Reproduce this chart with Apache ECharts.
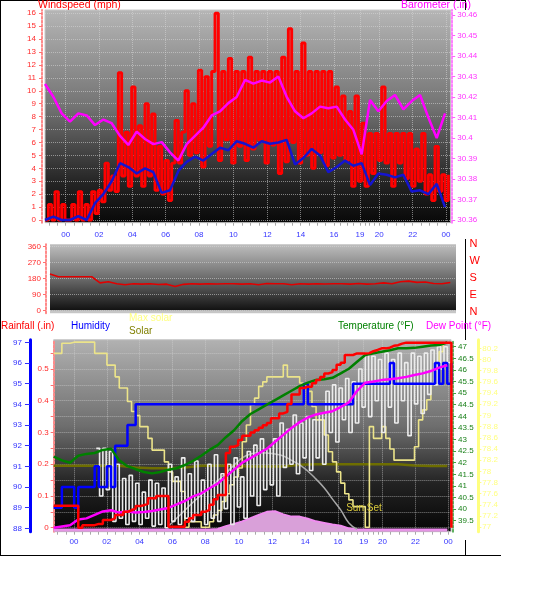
<!DOCTYPE html>
<html><head><meta charset="utf-8">
<script src="https://cdn.jsdelivr.net/npm/echarts@6/dist/echarts.min.js"></script>
<style>html,body{margin:0;padding:0;background:#fff}#c{width:556px;height:612px}</style>
</head><body><div id="c"></div>
<script>
// ---------------- data ----------------
const hourLabels = ['00','02','04','06','08','10','12','14','16','19','20','22','00'];
const hourLabelPos = [1.24,3.24,5.24,7.24,9.24,11.30,13.34,15.34,17.34,18.90,20.05,22.06,24.06];

const windTicks = [0,1,2,3,4,5,6,7,8,9,10,11,12,13,14,15,16];
const baroTicks = [30.36,30.37,30.38,30.39,30.40,30.41,30.42,30.43,30.44,30.45,30.46];
const dirTicks = [0,90,180,270,360];
const dirLetters = ['N','W','S','E','N'];
const rainLabels = [0,0.1,0.2,0.3,0.4,0.5];
const rainTicks = [0,0.05,0.1,0.15,0.2,0.25,0.3,0.35,0.4,0.45,0.5,0.55];
const humTicks = [88,89,90,91,92,93,94,95,96,97];
const tempTicks = [39.5,40,40.5,41,41.5,42,42.5,43,43.5,44,44.5,45,45.5,46,46.5,47];
const maxSolarTicks = [77,77.2,77.4,77.6,77.8,78,78.2,78.4,78.6,78.8,79,79.2,79.4,79.6,79.8,80,80.2];

// wind gust (mph), one value every 0.2 h
const gustStep = 0.2;
const windGust = [0,1.2,0,2.2,0,1.2,0,0,1.2,0,2.2,0,1.2,0,
 2.2,0.5,2.3,
 1.4,4.4,2.3,3.4,2.2,
 11.4,3.4,6.8,2.6,10.3,3.4,
 7.3,2.6,9.0,3.4,8.2,2.3,
 5.7,2.0,4.6,1.5,4.4,
 7.7,4.4,6.8,
 10.0,5.0,9.0,5.2,
 11.6,4.1,11.1,5.7,11.5,
 16.0,
 4.6,11.5,6.2,12.5,4.4,11.5,5.7,11.5,4.6,12.6,
 5.5,11.5,6.2,11.5,4.4,11.5,5.8,11.5,3.6,12.6,4.5,14.8,6.0,
 11.5,4.4,13.7,5.0,11.5,4.0,11.5,5.2,11.5,4.2,11.5,4.8,
 10.3,5.0,9.6,4.6,8.4,
 2.6,9.6,3.0,7.5,2.6,
 6.7,3.6,6.7,4.6,10.3,
 4.4,6.7,2.6,6.7,4.4,6.7,3.2,6.7,2.6,5.5,3.0,6.7,
 2.0,3.5,1.5,5.7,2.2,3.5,1.5,3.5];

// half-hourly series
const halfStep = 0.5;
const windAvg = [0,0.26,0,0,0.3,0,1.3,2.0,3.0,4.4, 4.1,3.6,4.0,3.7,2.1,2.3,3.8,4.5,4.9,4.6,
 5.1,5.6,5.4,6.1,5.9,5.6,6.1,5.9,6.0,6.2, 4.3,4.8,5.5,5.0,3.7,4.1,4.6,4.2,4.4,2.7,
 3.6,3.5,3.3,3.5,2.2,2.3,2.0,2.8,1.0];
const barometer = [30.4263,30.4201,30.412,30.408,30.412,30.411,30.4063,30.409,30.4072,30.401,
 30.3966,30.4031,30.3995,30.397,30.398,30.393,30.389,30.397,30.401,30.405,
 30.411,30.413,30.417,30.420,30.4283,30.4265,30.428,30.427,30.430,30.4201,
 30.413,30.4096,30.412,30.4153,30.4145,30.4153,30.409,30.404,30.392,30.4185,
 30.413,30.418,30.421,30.414,30.418,30.421,30.410,30.400,30.412];
const windDir = [205,190,190,190,190,190,155,162,150,145, 150,148,150,146,148,135,147,150,148,150,
 149,150,150,148,150,145,152,150,150,145, 150,148,150,149,150,150,148,152,148,150,
 155,150,162,165,158,160,152,150,157];

// quarter-hourly series (bottom panel)
const qStep = 0.25;
const rainfall = [0.069,0.069,0.069,0.069,0.069,0.069,0,0.008,0.008,0.008,
 0.012,0.012,0.024,0.024,0.03,0.04,0.04,0.05,0.055,0.061,
 0.068,0.071,0.075,0.093,0.093,0.1,0.1,0.1,0.003,0.003,
 0.003,0.003,0.019,0.03,0.04,0.04,0.05,0.056,0.072,0.09,
 0.103,0.103,0.235,0.255,0.26,0.276,0.29,0.29,0.3,0.307,
 0.315,0.323,0.33,0.345,0.345,0.36,0.365,0.39,0.42,0.42,
 0.44,0.444,0.444,0.455,0.465,0.475,0.486,0.49,0.497,0.513,
 0.52,0.544,0.544,0.549,0.549,0.549,0.55,0.556,0.56,0.565,
 0.565,0.567,0.573,0.575,0.58,0.583,0.583,0.583,0.583,0.583,
 0.583,0.583,0.583,0.583,0.583,0.583,0.583,0];
const humidity = [89,89,90,90,90,89,90,90,90,90,
 91,90,90,91,90,92,92,92,93,93,
 94,94,94,94,94,94,94,94,94,94,
 94,94,94,94,94,94,94,94,94,94,
 94,94,94,94,94,94,94,94,94,94,
 94,94,94,94,94,94,94,94,94,94,
 94,95,94,94,94,94,94,94,94,94,
 94,94,94,95,95,95,95,95,95,95,
 95,95,96,95,95,95,95,95,95,95,
 95,95,95,96,95,96,95,96];
const maxSolar = [80.11,80.11,80.29,80.29,80.31,80.31,80.31,80.31,80.31,80.31,
 80.11,80.11,80.11,79.9,79.9,79.69,79.49,79.49,79.25,79.07,
 79.0,78.8,78.8,78.59,78.38,78.38,78.38,78.17,77.99,77.82,
 77.82,77.64,77.0,77.1,77.1,77.1,77.0,77.0,77.1,77.22,
 77.3,77.46,77.6,77.76,77.9,78.06,78.53,78.83,79.19,79.31,
 79.52,79.6,79.69,79.69,79.69,79.69,79.9,79.69,79.69,79.69,
 79.58,79.58,79.43,79.16,78.92,78.92,78.65,78.35,78.17,77.99,
 77.79,77.6,77.49,77.37,77.37,77.37,77.0,78.8,78.59,78.59,
 78.8,78.59,78.4,78.2,78.2,78.2,78.2,78.2,78.44,78.92,
 79.1,79.28,79.58,79.81,80.14,80.29,80.29];
const sunSet = {t: 18.92, level: 77.345, text: 'Sun Set'};

const solarStep = 1;
const solar = [0.195,0.195,0.195,0.195,0.195,0.19,0.187,0.187,0.19,0.195,
 0.195,0.195,0.193,0.193,0.193,0.198,0.2,0.2,0.2,0.2,
 0.2,0.2,0.196,0.194,0.194];

const temperature = [42.26,42.1,42.0,42.3,42.38,42.42,42.55,42.6,42.1,41.85,
 41.72,41.6,41.54,41.6,41.7,41.76,41.9,42.08,42.3,42.55,
 42.76,43.1,43.4,43.8,44.1,44.3,44.5,44.7,44.9,45.1,
 45.3,45.45,45.57,45.6,45.66,45.85,46.05,46.35,46.64,46.72,
 46.78,46.85,46.93,46.93,46.95,47.0,47.05,47.07,47.18];
const dewPoint = [39.2,39.25,39.3,39.55,39.6,39.75,39.9,39.95,39.85,39.9,
 39.85,39.88,39.92,39.98,40.05,40.2,40.35,40.55,40.68,40.9,
 41.1,41.4,41.7,42.0,42.2,42.4,42.6,42.9,43.2,43.5,
 43.75,43.95,44.08,44.15,44.22,44.4,44.6,45.1,45.45,45.5,
 45.56,45.6,45.64,45.7,45.78,45.85,45.95,46.1,46.2];
const bellCurve = [null,null,null,null,null,null,null,null,null,null,null,null,null,null,
 0.005,0.03,0.055,0.08,0.103,0.125,0.148,0.172,0.197,0.22,0.232,0.236,0.235,0.232,0.226,0.212,
 0.198,0.178,0.153,0.125,0.09,0.056,0.015,-0.005,
 null,null,null,null,null,null,null,null,null,null,null];
const pinkArea = [-0.006,-0.006,-0.006,-0.006,-0.006,-0.006,-0.006,-0.006,-0.006,-0.006,
 -0.006,-0.006,-0.006,-0.006,-0.006,-0.006,-0.006,-0.006,-0.006,-0.006,
 -0.004,0.005,0.012,0.02,0.03,0.04,0.05,0.052,0.042,0.035,0.035,0.028,0.02,0.015,0.01,0.006,-0.002,
 -0.006,-0.006,-0.006,-0.006,-0.006,-0.006,-0.006,-0.006,-0.006,-0.006,-0.006,-0.006];
const spikeStep = 0.2;
const whiteSpikes = [null,null,null,null,null,null,null,null,null,null,null,null,null,
 0.25,0.1,0.25,0.12,0.24,0.02,0.2,0.03,0.155,0.01,
 0.165,0.02,0.14,0.01,0.112,0.03,0.15,0.005,0.14,0.01,
 0.125,0.0,0.2,0.02,0.16,0.01,0.22,0.03,0.17,0.02,
 0.21,0.04,0.15,0.01,0.2,0.03,0.23,0.02,0.17,0.06,
 0.2,0.01,0.22,0.065,0.16,0.03,0.24,0.1,0.26,0.07,
 0.28,0.12,0.25,0.135,0.28,0.1,0.33,0.19,0.31,0.2,
 0.355,0.17,0.33,0.22,0.35,0.18,0.34,0.22,0.36,0.2,
 0.43,0.3,0.45,0.27,0.44,0.34,0.47,0.3,0.46,0.33,
 0.5,0.38,0.55,0.35,0.54,0.4,0.53,0.3,0.55,0.38,
 0.53,0.33,0.55,0.4,0.52,0.29,0.55,0.39,0.54,0.36,
 0.55,0.42,0.56,0.45,0.57,0.5,0.57,0.52,null];

// ---------------- helpers ----------------
const toXY = (arr, step) => arr.map((v, i) => [+(i * step).toFixed(3), v]);
const FONT = 'Liberation Sans, Arial, sans-serif';
function hourLabelAt(v) {
  let b = 0;
  for (let i = 1; i < hourLabelPos.length; i++) if (Math.abs(hourLabelPos[i] - v) < Math.abs(hourLabelPos[b] - v)) b = i;
  return hourLabels[b];
}
const minorTicks = [hourLabelPos[0] - 1, hourLabelPos[0] - 0.5];
for (let i = 0; i < hourLabelPos.length - 1; i++) {
  const a = hourLabelPos[i], b = hourLabelPos[i + 1];
  for (let k = 0; k < 4; k++) minorTicks.push(a + (b - a) * k / 4);
}
minorTicks.push(hourLabelPos[hourLabelPos.length - 1]);
const fmtNum = v => String(parseFloat(Number(v).toFixed(2)));
const grad = (stops) => new echarts.graphic.LinearGradient(0, 0, 0, 1, stops.map(s => ({offset: s[0], color: s[1]})));

const gridLine = {show: true, lineStyle: {color: 'rgba(215,215,215,0.55)', type: 'dotted', width: 1}};

function mainX(grid, max, margin) {
  return {gridIndex: grid, type: 'value', min: 0, max: max,
    axisLine: {show: false, onZero: false},
    axisTick: {show: false, customValues: hourLabelPos},
    axisLabel: {customValues: hourLabelPos, formatter: v => hourLabelAt(v), color: '#3535ff', fontSize: 8, fontFamily: FONT, margin: margin},
    splitLine: gridLine};
}
function minorX(grid, max) {
  return {gridIndex: grid, type: 'value', min: 0, max: max, position: 'bottom',
    axisLine: {show: false, onZero: false},
    axisTick: {show: true, customValues: minorTicks, length: 3, lineStyle: {color: '#a8a8a8'}},
    axisLabel: {show: false}, splitLine: {show: false}};
}

const chart = echarts.init(document.getElementById('c'), null, {renderer: 'canvas'});

const option = {
  animation: false,
  backgroundColor: '#ffffff',
  grid: [
    {left: 45, top: 10, width: 405.7, height: 212.7, show: true, borderColor: '#c8c8c8', borderWidth: 1,
     backgroundColor: grad([[0, '#b6b6b6'], [0.45, '#747474'], [0.8, '#262626'], [1, '#080808']])},
    {left: 50, top: 244.3, width: 406, height: 69, show: true, borderColor: '#b0b0b0', borderWidth: 0,
     backgroundColor: grad([[0, '#bebebe'], [0.5, '#6a6a6a'], [0.955, '#121212'], [0.96, '#c6c6c6'], [1, '#c6c6c6']])},
    {left: 53.66, top: 339.7, width: 397.4, height: 192, show: true, borderColor: '#c8c8c8', borderWidth: 1,
     backgroundColor: grad([[0, '#b2b2b2'], [0.45, '#6e6e6e'], [0.75, '#222222'], [1, '#060606']])}
  ],
  xAxis: [
    mainX(0, 24.34, 8),
    minorX(0, 24.34),
    {gridIndex: 1, type: 'value', min: 0, max: 24.34, show: false, axisLine: {onZero: false}},
    mainX(2, 24.23, 6),
    minorX(2, 24.23)
  ],
  yAxis: [
    {gridIndex: 0, type: 'value', min: -0.209, max: 16.255, position: 'left', offset: 3,
     axisLine: {show: true, onZero: false, lineStyle: {color: '#ff8a8a', type: [2, 2], width: 2}},
     axisTick: {show: true, customValues: windTicks, length: 3, lineStyle: {color: '#ff7070'}},
     axisLabel: {customValues: windTicks, color: '#ff2a2a', fontSize: 8, fontFamily: FONT, margin: 6, formatter: fmtNum},
     splitLine: gridLine},
    {gridIndex: 0, type: 'value', min: 30.3587, max: 30.4624, position: 'right', offset: 1.5,
     axisLine: {show: true, onZero: false, lineStyle: {color: '#ff80ff', type: [2, 2], width: 2}},
     axisTick: {show: true, customValues: baroTicks, length: 3, lineStyle: {color: '#ff60ff'}},
     axisLabel: {customValues: baroTicks, color: '#ff33ff', fontSize: 8, fontFamily: FONT, margin: 5, formatter: fmtNum},
     splitLine: {show: false}},
    {gridIndex: 1, type: 'value', min: -17, max: 373.6, position: 'left', offset: 4,
     axisLine: {show: true, onZero: false, lineStyle: {color: '#ff8a8a', type: [2, 2], width: 2}},
     axisTick: {show: true, customValues: dirTicks, length: 3, lineStyle: {color: '#ff7070'}},
     axisLabel: {customValues: dirTicks, color: '#ff2a2a', fontSize: 8, fontFamily: FONT, margin: 5},
     splitLine: gridLine},
    {gridIndex: 2, type: 'value', min: -0.0126, max: 0.5923, position: 'left', offset: 0,
     axisLine: {show: true, onZero: false, lineStyle: {color: '#ff8a8a', type: [2, 2], width: 2}},
     axisTick: {show: true, customValues: rainTicks, length: 3, lineStyle: {color: '#ff7070'}},
     axisLabel: {customValues: rainLabels, color: '#ff2a2a', fontSize: 8, fontFamily: FONT, margin: 5, formatter: fmtNum},
     splitLine: gridLine},
    {gridIndex: 2, type: 'value', min: 87.836, max: 97.126, position: 'left', offset: 23.7,
     axisLine: {show: true, onZero: false, lineStyle: {color: '#0000ff', width: 3}},
     axisTick: {show: true, customValues: humTicks, length: 5, lineStyle: {color: '#3030ff'}},
     axisLabel: {customValues: humTicks, color: '#3030ff', fontSize: 8, fontFamily: FONT, margin: 8},
     splitLine: {show: false}},
    {gridIndex: 2, type: 'value', min: 39.026, max: 47.302, position: 'right', offset: 2,
     axisLine: {show: true, onZero: false, lineStyle: {color: '#60b060', type: [2, 2], width: 2}},
     axisTick: {show: true, customValues: tempTicks, length: 3, lineStyle: {color: '#40a040'}},
     axisLabel: {customValues: tempTicks, color: '#1a801a', fontSize: 8, fontFamily: FONT, margin: 5, formatter: fmtNum},
     splitLine: {show: false}},
    {gridIndex: 2, type: 'value', min: 76.921, max: 80.354, position: 'right', offset: 27.3,
     axisLine: {show: true, onZero: false, lineStyle: {color: '#ffff80', width: 3}},
     axisTick: {show: true, customValues: maxSolarTicks, length: 3, lineStyle: {color: '#ffff80'}},
     axisLabel: {customValues: maxSolarTicks, color: '#ffff80', fontSize: 8, fontFamily: FONT, margin: 4, formatter: fmtNum},
     splitLine: {show: false}}
  ],
  series: [
    // top panel
    {name: 'Gust', type: 'line', xAxisIndex: 0, yAxisIndex: 0, data: toXY(windGust, gustStep), step: 'end',
     symbol: 'none', lineStyle: {color: '#ff0000', width: 2.9}},
    {name: 'Wind', type: 'line', xAxisIndex: 0, yAxisIndex: 0, data: toXY(windAvg, halfStep),
     symbol: 'none', lineStyle: {color: '#1414d0', width: 2.5}},
    {name: 'Barometer', type: 'line', xAxisIndex: 0, yAxisIndex: 1, data: toXY(barometer, halfStep),
     symbol: 'none', lineStyle: {color: '#ff00ff', width: 2.5}},
    // middle panel
    {name: 'Direction', type: 'line', xAxisIndex: 2, yAxisIndex: 2, data: toXY(windDir, halfStep),
     symbol: 'none', lineStyle: {color: '#e00000', width: 1.6}},
    // bottom panel
    {name: 'Pink', type: 'line', xAxisIndex: 3, yAxisIndex: 3, data: toXY(pinkArea, halfStep),
     symbol: 'none', lineStyle: {color: '#f08cf0', width: 2},
     areaStyle: {color: '#d9a0d9', origin: 'start', opacity: 1}},
    {name: 'Solar', type: 'line', xAxisIndex: 3, yAxisIndex: 3, data: toXY(solar, solarStep),
     symbol: 'none', lineStyle: {color: '#6e6e00', width: 2.5}},
    {name: 'Bell', type: 'line', xAxisIndex: 3, yAxisIndex: 3, data: toXY(bellCurve, halfStep), smooth: true,
     symbol: 'none', lineStyle: {color: '#a8a8a8', width: 1.5}},
    {name: 'Max solar', type: 'line', xAxisIndex: 3, yAxisIndex: 6, data: toXY(maxSolar, qStep), step: 'end',
     symbol: 'none', lineStyle: {color: '#ece48a', width: 1.6},
     markPoint: {symbol: 'rect', symbolSize: 1, itemStyle: {color: 'rgba(0,0,0,0)'},
       label: {show: true, position: 'inside', formatter: sunSet.text, color: '#d8c83c', fontSize: 10, fontFamily: FONT},
       data: [{coord: [sunSet.t, sunSet.level]}]}},
    {name: 'Spikes', type: 'line', xAxisIndex: 3, yAxisIndex: 3, data: toXY(whiteSpikes, spikeStep), step: 'end',
     symbol: 'none', lineStyle: {color: '#ececec', width: 1.6}},
    {name: 'Humidity', type: 'line', xAxisIndex: 3, yAxisIndex: 4, data: toXY(humidity, qStep), step: 'end',
     symbol: 'none', lineStyle: {color: '#0000ff', width: 2.5}},
    {name: 'Dew Point', type: 'line', xAxisIndex: 3, yAxisIndex: 5, data: toXY(dewPoint, halfStep),
     symbol: 'none', lineStyle: {color: '#ff00ff', width: 2.5}},
    {name: 'Temperature', type: 'line', xAxisIndex: 3, yAxisIndex: 5, data: toXY(temperature, halfStep),
     symbol: 'none', lineStyle: {color: '#008000', width: 2.5}},
    {name: 'Rainfall', type: 'line', xAxisIndex: 3, yAxisIndex: 3, data: toXY(rainfall, qStep), step: 'end',
     symbol: 'none', lineStyle: {color: '#ff0000', width: 2.5}}
  ],
  graphic: [
    {type: 'line', shape: {x1: 0.5, y1: 0, x2: 0.5, y2: 556}, style: {stroke: '#000', lineWidth: 1}, silent: true},
    {type: 'line', shape: {x1: 0, y1: 0.5, x2: 466, y2: 0.5}, style: {stroke: '#000', lineWidth: 1}, silent: true},
    {type: 'line', shape: {x1: 465.5, y1: 0, x2: 465.5, y2: 10}, style: {stroke: '#000', lineWidth: 1}, silent: true},
    {type: 'line', shape: {x1: 465.5, y1: 239, x2: 465.5, y2: 340}, style: {stroke: '#000', lineWidth: 1}, silent: true},
    {type: 'line', shape: {x1: 465.5, y1: 540, x2: 465.5, y2: 556}, style: {stroke: '#000', lineWidth: 1}, silent: true},
    {type: 'line', shape: {x1: 0, y1: 555.5, x2: 501, y2: 555.5}, style: {stroke: '#000', lineWidth: 1}, silent: true},
    {type: 'text', style: {text: 'Windspeed (mph)', x: 38, y: 4.8, fill: '#ff0000', font: '10.5px ' + FONT, textVerticalAlign: 'middle', verticalAlign: 'middle'}},
    {type: 'text', style: {text: 'Barometer (.in)', x: 401, y: 4.8, fill: '#ff00ff', font: '10.5px ' + FONT, textVerticalAlign: 'middle', verticalAlign: 'middle'}},
    {type: 'text', style: {text: 'Rainfall (.in)', x: 1, y: 326.5, fill: '#ff0000', font: '10px ' + FONT, textVerticalAlign: 'middle', verticalAlign: 'middle'}},
    {type: 'text', style: {text: 'Humidity', x: 71, y: 326.5, fill: '#0000ff', font: '10px ' + FONT, textVerticalAlign: 'middle', verticalAlign: 'middle'}},
    {type: 'text', style: {text: 'Max solar', x: 129, y: 318.5, fill: '#ffff80', font: '10px ' + FONT, textVerticalAlign: 'middle', verticalAlign: 'middle'}},
    {type: 'text', style: {text: 'Solar', x: 129, y: 331.5, fill: '#808000', font: '10px ' + FONT, textVerticalAlign: 'middle', verticalAlign: 'middle'}},
    {type: 'text', style: {text: 'Temperature (°F)', x: 338, y: 326.5, fill: '#008000', font: '10px ' + FONT, textVerticalAlign: 'middle', verticalAlign: 'middle'}},
    {type: 'text', style: {text: 'Dew Point (°F)', x: 426, y: 326.5, fill: '#ff00ff', font: '10px ' + FONT, textVerticalAlign: 'middle', verticalAlign: 'middle'}}
  ].concat(dirLetters.map((l, i) => ({type: 'text', style: {text: l, x: 469.5, y: 243.5 + i * 17.1, fill: '#ff0000', font: '11px ' + FONT, textVerticalAlign: 'middle', verticalAlign: 'middle'}})))
};
chart.setOption(option);
</script>
</body></html>
